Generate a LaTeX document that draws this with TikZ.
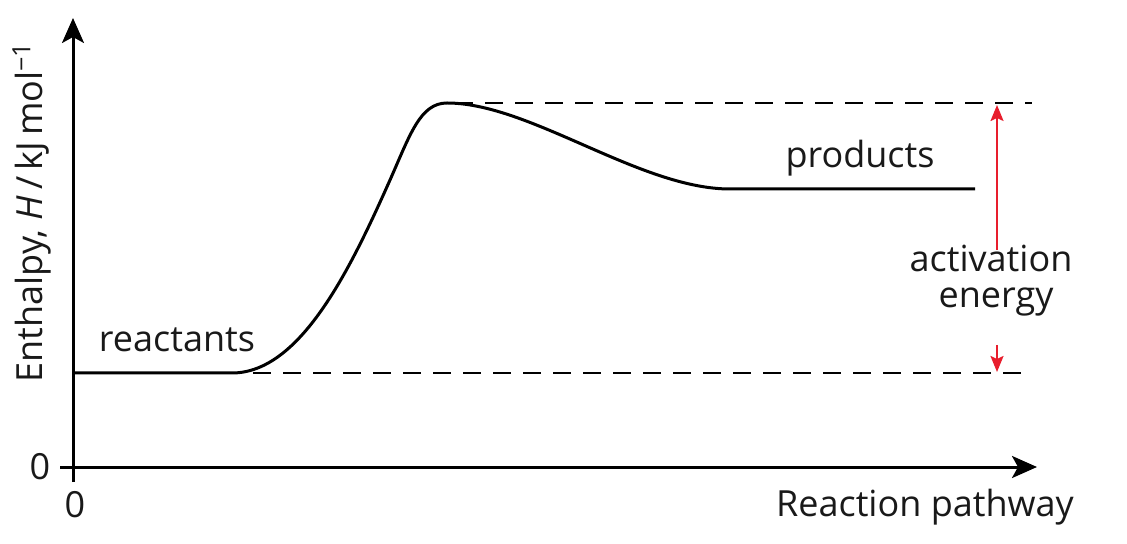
\documentclass[tikz,border=0pt]{standalone}
\usepackage{fontspec}
\setmainfont{Open Sans}
\usetikzlibrary{arrows.meta}
\definecolor{aered}{RGB}{232,30,45}
\begin{document}
\begin{tikzpicture}[x=0.5pt,y=-0.5pt,
  lbl/.style={font=\fontsize{18}{21}\selectfont, text=black!90, inner sep=0pt},
  axis/.style={line width=1.5pt, -{Stealth[length=12.5pt,width=11pt,inset=3pt]}},
  curve/.style={line width=1.5pt},
  dashline/.style={line width=1.2pt, dash pattern=on 9pt off 6pt},
  aearrow/.style={aered, line width=1pt, -{Stealth[length=8pt,width=6.5pt,inset=1.5pt]}}]
\useasboundingbox (0,0) rectangle (1127,544);
% axes
\coordinate (o) at (73,467);
\coordinate (ytop) at (73,18);
\coordinate (xend) at (1037,467);
\coordinate (ybot) at (73,482);
\coordinate (xleft) at (60,467);
\draw[axis] (ybot) -- (ytop);
\draw[axis] (xleft) -- (xend);
\node[lbl] (zy) at (40,467) {0};
\node[lbl] (zx) at (75,505) {0};
\node[lbl] (xl) at (925,507) {Reaction pathway};
\node[lbl, rotate=90] (yl) at (32,212) {Enthalpy, \textit{H}\,/\,kJ\,mol\textsuperscript{−1}};
% energy curve
\coordinate (r0) at (73,373);
\coordinate (r1) at (232,373);
\coordinate (pk) at (447,103);
\coordinate (p0) at (730,189);
\coordinate (p1) at (975,189);
\draw[curve] (r0) -- (r1) .. controls (300,373) and (350,270) .. (390,180)
  .. controls (410,135) and (420,103) .. (pk)
  .. controls (530,103) and (640,189) .. (p0) -- (p1);
% dashed levels
\coordinate (dt0) at (455,103);
\coordinate (dt1) at (1032,103);
\coordinate (db0) at (253,373);
\coordinate (db1) at (1032,373);
\draw[dashline] (dt0) -- (dt1);
\draw[dashline] (db0) -- (db1);
% labels
\node[lbl] (prod) at (860,158) {products};
\node[lbl] (reac) at (177,340) {reactants};
\node[lbl] (act) at (991,258) {activation};
\node[lbl] (en) at (996,302) {energy};
% activation energy arrows
\coordinate (at0) at (997,105);
\coordinate (ab0) at (997,372);
\coordinate (au) at (997,250);
\coordinate (ad) at (997,345);
\draw[aearrow] (au) -- (at0);
\draw[aearrow] (ad) -- (ab0);
\end{tikzpicture}
\end{document}
